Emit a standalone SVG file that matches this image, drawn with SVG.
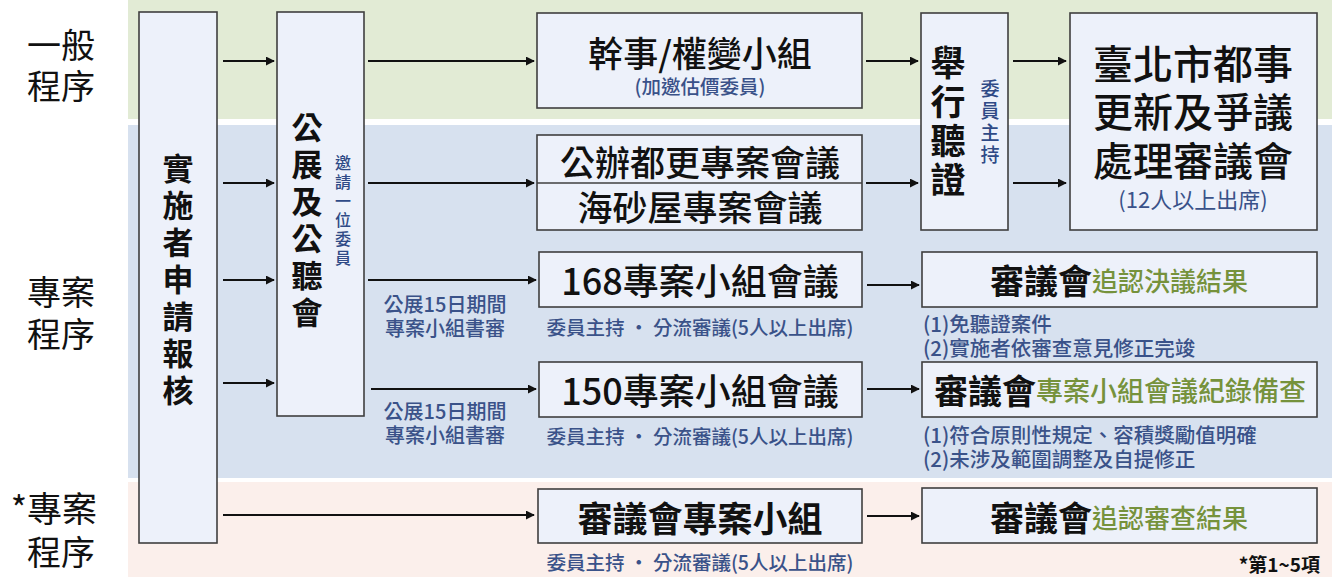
<svg xmlns="http://www.w3.org/2000/svg" width="1332" height="577" viewBox="0 0 1332 577">
<style>
text{font-family:"Noto Sans CJK TC","Noto Sans CJK SC",sans-serif;dominant-baseline:central}
.box{fill:#edf1fa;stroke:#3f3f3f;stroke-width:1.6}
.lbl{font-size:34px;fill:#111;text-anchor:end}
.t{font-size:35px;fill:#111;font-weight:500;text-anchor:middle}
.vt{writing-mode:vertical-rl;text-anchor:start;dominant-baseline:central}
.v{font-size:31px;fill:#111;font-weight:700}
.sv{font-size:16px;fill:#2f4a86;font-weight:500}
.blue{font-size:19.5px;fill:#3a5289;font-weight:500}
.note{font-size:20.5px;fill:#3a5289;font-weight:500}
.g{fill:#76923c;font-weight:500}
.c{stroke:#111;stroke-width:2;fill:none;marker-end:url(#ah)}
</style>
<defs>
<marker id="ah" viewBox="0 0 10 10" refX="9" refY="5" markerWidth="4.5" markerHeight="4.5" orient="auto" markerUnits="strokeWidth">
<path d="M0,0 L10,5 L0,10 Z" fill="#111"/>
</marker>
</defs>
<g id="bands">
<rect x="128" y="0" width="1204" height="119" fill="#e2ebd5"/>
<rect x="128" y="125" width="1204" height="353" fill="#d7e1ef"/>
<rect x="128" y="482" width="1204" height="95" fill="#fbefeb"/>
</g>
<g id="lane-labels">
<text class="lbl" x="95" y="43">一般</text>
<text class="lbl" x="95" y="84">程序</text>
<text class="lbl" x="95" y="290">專案</text>
<text class="lbl" x="95" y="332">程序</text>
<text class="lbl" x="97" y="506" style="font-size:35px">*專案</text>
<text class="lbl" x="95" y="550">程序</text>
</g>
<g id="connectors">
<path class="c" d="M223,61 H274"/>
<path class="c" d="M223,183 H274"/>
<path class="c" d="M223,280 H274"/>
<path class="c" d="M223,383 H274"/>
<path class="c" d="M223,515 H534"/>
<path class="c" d="M368,61 H534"/>
<path class="c" d="M368,183 H534"/>
<path class="c" d="M368,280 H536"/>
<path class="c" d="M371,389 H536"/>
<path class="c" d="M866,61 H918"/>
<path class="c" d="M866,183 H918"/>
<path class="c" d="M1013,61 H1066"/>
<path class="c" d="M1013,183 H1066"/>
<path class="c" d="M867,285 H919"/>
<path class="c" d="M867,389 H919"/>
<path class="c" d="M867,516 H919"/>
</g>
<g id="applicant">
<rect class="box" x="139" y="12" width="78" height="531"/>
<text class="v vt" x="178" y="152.5" style="letter-spacing:6px">實施者申請報核</text>
</g>
<g id="public-hearing">
<rect class="box" x="277" y="12" width="87" height="404"/>
<text class="v vt" x="307" y="111.5" style="letter-spacing:6px">公展及公聽會</text>
<text class="sv vt" x="343" y="155" style="letter-spacing:3px">邀請一位委員</text>
</g>
<g id="staff-group">
<rect class="box" x="537" y="13" width="325" height="95"/>
<text class="t" x="700" y="51">幹事/權變小組</text>
<text class="blue" x="700" y="85" text-anchor="middle">(加邀估價委員)</text>
</g>
<g id="special-meeting">
<rect class="box" x="537" y="135" width="325" height="95"/>
<line x1="537" y1="183" x2="862" y2="183" stroke="#3f3f3f" stroke-width="1.4"/>
<text class="t" x="700" y="160">公辦都更專案會議</text>
<text class="t" x="700" y="205">海砂屋專案會議</text>
</g>
<g id="hearing">
<rect class="box" x="921" y="13" width="87" height="217"/>
<text class="v vt" x="948" y="45.5" style="font-size:35px;letter-spacing:4px">舉行聽證</text>
<text class="sv vt" x="990" y="79.5" style="font-size:19px;letter-spacing:3px">委員主持</text>
</g>
<g id="council">
<rect class="box" x="1070" y="13" width="247" height="217"/>
<text class="t" style="font-size:40px"><tspan x="1193" y="62">臺北市都事</tspan><tspan x="1193" y="110">更新及爭議</tspan><tspan x="1193" y="159">處理審議會</tspan></text>
<text class="blue" x="1193" y="198" text-anchor="middle" style="font-size:22px;font-weight:400">(12人以上出席)</text>
</g>
<g id="group-168">
<rect class="box" x="539" y="252" width="323" height="55"/>
<text class="t" x="700" y="279" style="font-size:36px">168專案小組會議</text>
<text class="blue" x="700" y="326" text-anchor="middle">委員主持 · 分流審議(5人以上出席)</text>
</g>
<g id="review-168">
<rect class="box" x="922" y="252" width="395" height="55"/>
<text x="1119" y="279" text-anchor="middle"><tspan style="font-size:34px;font-weight:700;fill:#111">審議會</tspan><tspan class="g" style="font-size:26px">追認決議結果</tspan></text>
<text class="note"><tspan x="923" y="323">(1)免聽證案件</tspan><tspan x="923" y="347">(2)實施者依審查意見修正完竣</tspan></text>
</g>
<g id="group-150">
<rect class="box" x="539" y="362" width="323" height="55"/>
<text class="t" x="700" y="389" style="font-size:36px">150專案小組會議</text>
<text class="blue" x="700" y="435" text-anchor="middle">委員主持 · 分流審議(5人以上出席)</text>
</g>
<g id="review-150">
<rect class="box" x="922" y="362" width="395" height="55"/>
<text x="1120" y="389" text-anchor="middle"><tspan style="font-size:34px;font-weight:700;fill:#111">審議會</tspan><tspan class="g" style="font-size:27px">專案小組會議紀錄備查</tspan></text>
<text class="note"><tspan x="923" y="434">(1)符合原則性規定、容積獎勵值明確</tspan><tspan x="923" y="458">(2)未涉及範圍調整及自提修正</tspan></text>
</g>
<g id="council-group">
<rect class="box" x="538" y="489" width="324" height="54"/>
<text class="t" x="700" y="516" style="font-weight:700;font-size:35px">審議會專案小組</text>
<text class="blue" x="700" y="561" text-anchor="middle">委員主持 · 分流審議(5人以上出席)</text>
</g>
<g id="review-council">
<rect class="box" x="922" y="488" width="395" height="55"/>
<text x="1119" y="516" text-anchor="middle"><tspan style="font-size:34px;font-weight:700;fill:#111">審議會</tspan><tspan class="g" style="font-size:26px">追認審查結果</tspan></text>
<text x="1320" y="563" text-anchor="end" style="font-size:19px;font-weight:700;fill:#111">*第1~5項</text>
</g>
<g id="notes">
<text class="blue" text-anchor="middle" style="font-size:20px"><tspan x="445" y="303">公展15日期間</tspan><tspan x="445" y="327">專案小組書審</tspan></text>
<text class="blue" text-anchor="middle" style="font-size:20px"><tspan x="445" y="410">公展15日期間</tspan><tspan x="445" y="434">專案小組書審</tspan></text>
</g>
</svg>
